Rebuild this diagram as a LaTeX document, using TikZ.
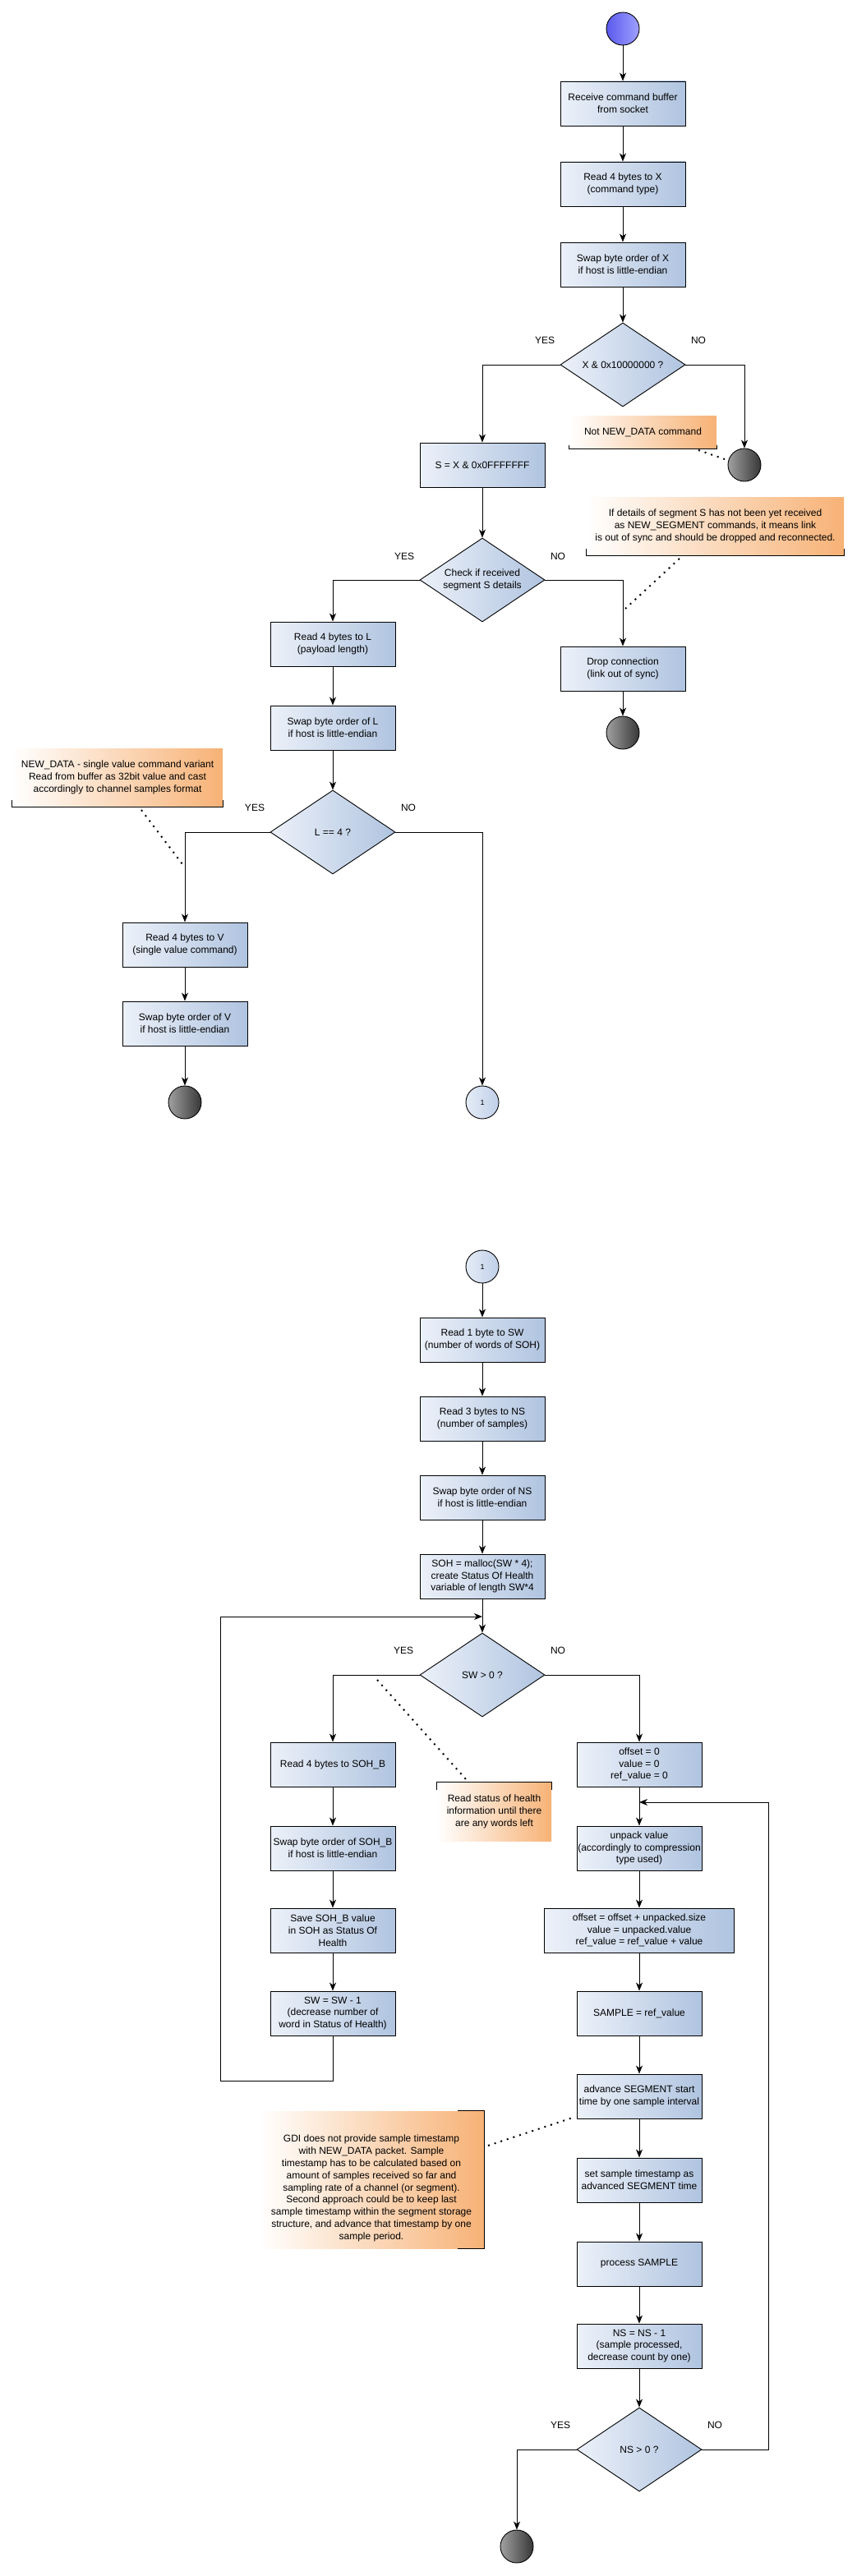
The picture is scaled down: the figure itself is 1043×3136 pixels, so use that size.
\documentclass[tikz,border=0pt]{standalone}
\usepackage{fontspec}
\setmainfont{Liberation Sans}
\usetikzlibrary{shapes.geometric,arrows.meta}
\definecolor{boxL}{RGB}{236,241,249}
\definecolor{boxR}{RGB}{176,196,224}
\definecolor{noteO}{RGB}{247,178,118}
\definecolor{startL}{RGB}{90,90,238}
\definecolor{startR}{RGB}{160,160,255}
\definecolor{endL}{RGB}{160,160,160}
\definecolor{endR}{RGB}{55,55,55}
\definecolor{conL}{RGB}{228,235,246}
\definecolor{conR}{RGB}{192,208,232}
\begin{document}
\begin{tikzpicture}[x=1pt,y=-1pt,
  every node/.style={font=\fontsize{12}{14.8}\selectfont},
  proc/.style={draw=black, line width=0.9pt, left color=boxL, right color=boxR,
    minimum width=152pt, minimum height=54pt, inner sep=0pt, align=center},
  dia/.style={diamond, draw=black, line width=0.9pt, left color=boxL, right color=boxR,
    minimum width=152pt, minimum height=102pt, inner sep=0pt},
  txt/.style={align=center, inner sep=0pt},
  startc/.style={circle, draw=black, line width=0.9pt, left color=startL, right color=startR,
    minimum size=40pt, inner sep=0pt},
  endc/.style={circle, draw=black, line width=0.9pt, left color=endL, right color=endR,
    minimum size=40pt, inner sep=0pt},
  conc/.style={circle, draw=black, line width=0.9pt, left color=conL, right color=conR,
    minimum size=40pt, inner sep=0pt, font=\fontsize{9}{10}\selectfont},
  flow/.style={line width=0.9pt, -{Stealth[length=10pt,width=8pt,inset=3pt]}},
  link/.style={line width=0.9pt},
  dots/.style={line width=2pt, dash pattern=on 2pt off 6pt},
  note/.style={left color=white, right color=noteO, inner sep=0pt, align=center},
  brk/.style={line width=0.9pt},
  lbl/.style={inner sep=0pt}
]
\path[use as bounding box, fill=white] (0,0) rectangle (1043,3136);

% ---------------- upper part ----------------
\node[startc] (start) at (758,35) {};
\node[proc] (b1) at (758,126) {Receive command buffer\\from socket};
\node[proc] (b2) at (758,224) {Read 4 bytes to X\\(command type)};
\node[proc] (b3) at (758,322) {Swap byte order of X\\if host is little-endian};
\node[dia] (d1) at (758,444) {};
\node[txt] at (d1) {X \& 0x10000000 ?};
\node[proc] (bS) at (587,566) {S = X \& 0x0FFFFFFF};
\node[endc] (e1) at (906,566) {};
\node[note, minimum width=179pt, minimum height=40pt] (n1) at (782.5,526) {Not NEW\_DATA command};
\node[dia] (d2) at (587,706) {};
\node[txt] at (d2) {Check if received\\segment S details};
\node[note, minimum width=313pt, minimum height=71pt] (n2) at (870.5,640.5)
  {If details of segment S has not been yet received\\as NEW\_SEGMENT commands, it means link\\is out of sync and should be dropped and reconnected.};
\node[proc] (bDrop) at (758,814) {Drop connection\\(link out of sync)};
\node[endc] (e2) at (758,892) {};
\node[proc] (bL) at (405,784) {Read 4 bytes to L\\(payload length)};
\node[proc] (bSwapL) at (405,886) {Swap byte order of L\\if host is little-endian};
\node[dia] (d3) at (405,1013) {};
\node[txt] at (d3) {L == 4 ?};
\node[note, minimum width=256pt, minimum height=71pt] (n3) at (143,946.5)
  {NEW\_DATA - single value command variant\\Read from buffer as 32bit value and cast\\accordingly to channel samples format};
\node[proc] (bV) at (225,1150) {Read 4 bytes to V\\(single value command)};
\node[proc] (bSwapV) at (225,1246) {Swap byte order of V\\if host is little-endian};
\node[endc] (e3) at (225,1342) {};
\node[conc] (c1) at (587,1342) {1};

% labels
\path (d1) ++(-95,-30) node[lbl] {YES};
\path (d1) ++(92,-30) node[lbl] {NO};
\path (d2) ++(-95,-29) node[lbl] {YES};
\path (d2) ++(92,-29) node[lbl] {NO};
\path (d3) ++(-95,-30) node[lbl] {YES};
\path (d3) ++(92,-30) node[lbl] {NO};

% connectors
\draw[flow] (start) -- (b1);
\draw[flow] (b1) -- (b2);
\draw[flow] (b2) -- (b3);
\draw[flow] (b3) -- (d1);
\draw[flow] (d1.west) -| (bS.north);
\draw[flow] (d1.east) -| (e1.north);
\draw[flow] (bS) -- (d2);
\draw[flow] (d2.west) -| (bL.north);
\draw[flow] (d2.east) -| (bDrop.north);
\draw[flow] (bDrop) -- (e2);
\draw[flow] (bL) -- (bSwapL);
\draw[flow] (bSwapL) -- (d3);
\draw[flow] (d3.west) -| (bV.north);
\draw[flow] (d3.east) -| (c1.north);
\draw[flow] (bV) -- (bSwapV);
\draw[flow] (bSwapV) -- (e3);

% note brackets
\draw[brk] (n1.south west) ++(0,-4) -- (n1.south west) -- (n1.south east) -- ++(0,-4);
\draw[brk] (n2.south west) ++(0,-8) -- (n2.south west) -- (n2.south east) -- ++(0,-8);
\draw[brk] (n3.south west) ++(0,-8) -- (n3.south west) -- (n3.south east) -- ++(0,-8);

% dotted note links
\coordinate (n1a) at (850,548);
\coordinate (n1b) at (882,559);
\draw[dots] (n1a) -- (n1b);
\coordinate (n2a) at (827,680);
\coordinate (n2b) at (761,741);
\draw[dots] (n2a) -- (n2b);
\coordinate (n3a) at (172,986);
\coordinate (n3b) at (222,1052);
\draw[dots] (n3a) -- (n3b);

% ---------------- lower part ----------------
\node[conc] (c2) at (587,1542) {1};
\node[proc] (bSW) at (587,1631) {Read 1 byte to SW\\(number of words of SOH)};
\node[proc] (bNS) at (587,1727) {Read 3 bytes to NS\\(number of samples)};
\node[proc] (bSwapNS) at (587,1823) {Swap byte order of NS\\if host is little-endian};
\node[proc] (bMalloc) at (587,1919) {SOH = malloc(SW * 4);\\create Status Of Health\\variable of length SW*4};
\node[dia] (d4) at (587,2039) {};
\node[txt] at (d4) {SW > 0 ?};
\node[proc] (bSOHB) at (405,2148) {Read 4 bytes to SOH\_B};
\node[proc] (bSwapSOHB) at (405,2250) {Swap byte order of SOH\_B\\if host is little-endian};
\node[proc] (bSave) at (405,2350) {Save SOH\_B value\\in SOH as Status Of\\Health};
\node[proc] (bSWdec) at (405,2451) {SW = SW - 1\\(decrease number of\\word in Status of Health)};
\node[note, minimum width=139pt, minimum height=71pt] (n4) at (601.5,2205.5)
  {Read status of health\\information until there\\are any words left};
\node[proc] (bOffset) at (778,2148) {offset = 0\\value = 0\\ref\_value = 0};
\node[proc] (bUnpack) at (778,2250) {unpack value\\(accordingly to compression\\type used)};
\node[proc, minimum width=231pt] (bCalc) at (778,2350) {offset = offset + unpacked.size\\value = unpacked.value\\ref\_value = ref\_value + value};
\node[proc] (bSample) at (778,2451) {SAMPLE = ref\_value};
\node[proc] (bAdvance) at (778,2552) {advance SEGMENT start\\time by one sample interval};
\node[proc] (bSetTs) at (778,2654) {set sample timestamp as\\advanced SEGMENT time};
\node[proc] (bProcess) at (778,2756) {process SAMPLE};
\node[proc] (bNSdec) at (778,2856) {NS = NS - 1\\(sample processed,\\decrease count by one)};
\node[dia] (d5) at (778,2982) {};
\node[txt] at (d5) {NS > 0 ?};
\node[endc] (e4) at (629,3100) {};
\node[note, minimum width=274pt, minimum height=167pt] (n5) at (452,2653.5) {};
\node[txt] at (452,2664)
  {GDI does not provide sample timestamp\\with NEW\_DATA packet. Sample\\timestamp has to be calculated based on\\amount of samples received so far and\\sampling rate of a channel (or segment).\\Second approach could be to keep last\\sample timestamp within the segment storage\\structure, and advance that timestamp by one\\sample period.};

\path (d4) ++(-96,-30) node[lbl] {YES};
\path (d4) ++(92,-30) node[lbl] {NO};
\path (d5) ++(-96,-30) node[lbl] {YES};
\path (d5) ++(92,-30) node[lbl] {NO};

\draw[flow] (c2) -- (bSW);
\draw[flow] (bSW) -- (bNS);
\draw[flow] (bNS) -- (bSwapNS);
\draw[flow] (bSwapNS) -- (bMalloc);
\draw[flow] (bMalloc) -- (d4);
\draw[flow] (d4.west) -| (bSOHB.north);
\draw[flow] (d4.east) -| (bOffset.north);
\draw[flow] (bSOHB) -- (bSwapSOHB);
\draw[flow] (bSwapSOHB) -- (bSave);
\draw[flow] (bSave) -- (bSWdec);
\coordinate (lpA) at (268,2533);
\coordinate (lpB) at (268,1968);
\coordinate (lpC) at (587,1968);
\draw[flow] (bSWdec.south) |- (lpA) -- (lpB) -- (lpC);
\draw[flow] (bOffset) -- (bUnpack);
\draw[flow] (bUnpack) -- (bCalc);
\draw[flow] (bCalc) -- (bSample);
\draw[flow] (bSample) -- (bAdvance);
\draw[flow] (bAdvance) -- (bSetTs);
\draw[flow] (bSetTs) -- (bProcess);
\draw[flow] (bProcess) -- (bNSdec);
\draw[flow] (bNSdec) -- (d5);
\draw[flow] (d5.west) -| (e4.north);
\coordinate (rpA) at (935,2982);
\coordinate (rpB) at (935,2194);
\coordinate (rpC) at (778,2194);
\draw[flow] (d5.east) -- (rpA) -- (rpB) -- (rpC);

\draw[brk] (n4.north west) ++(0,9) -- (n4.north west) -- (n4.north east) -- ++(0,9);
\draw[brk] (n5.north east) ++(-32,0) -- (n5.north east) -- (n5.south east) -- ++(-32,0);

\coordinate (n4a) at (459,2045);
\coordinate (n4b) at (567,2166);
\draw[dots] (n4a) -- (n4b);
\coordinate (n5a) at (594,2612);
\coordinate (n5b) at (697,2578);
\draw[dots] (n5a) -- (n5b);
\end{tikzpicture}
\end{document}
